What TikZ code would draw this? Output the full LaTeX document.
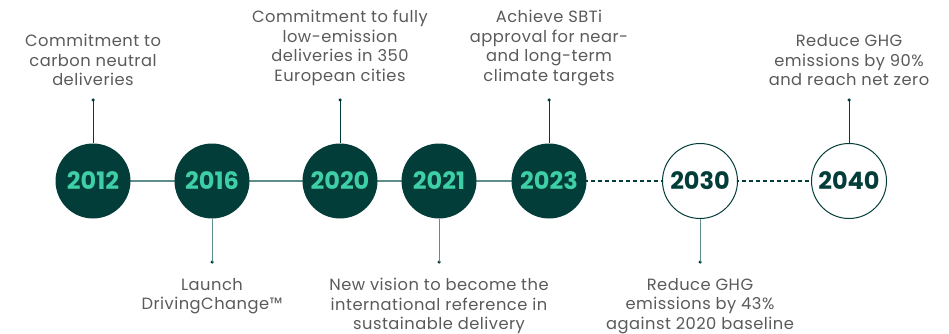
\documentclass[tikz,border=0pt]{standalone}
\usepackage{fontspec}
\setmainfont{Poppins}
\newfontfamily\descfont[LetterSpace=3]{Poppins}
\definecolor{darkteal}{HTML}{033D3A}
\definecolor{mint}{HTML}{3FCFA6}
\definecolor{linegray}{HTML}{5E8E8B}
\definecolor{txtgray}{HTML}{5A5A5A}
\begin{document}
\begin{tikzpicture}[x=1pt,y=-1pt,
  filledyear/.style={circle,fill=darkteal,minimum size=75pt,inner sep=0pt,text=mint,font=\fontsize{24}{24}\selectfont\bfseries},
  openyear/.style={circle,draw=darkteal,line width=1pt,fill=white,minimum size=75pt,inner sep=0pt,text=darkteal,font=\fontsize{24}{24}\selectfont\bfseries},
  desc/.style={align=center,text=txtgray,font=\descfont\fontsize{16.3}{19.6}\selectfont,inner sep=0pt},
  stalk/.style={draw=darkteal,line width=1pt},
  solidlink/.style={draw=linegray,line width=1.4pt},
  dashlink/.style={draw=darkteal,line width=1.2pt,dash pattern=on 4pt off 3pt},
  tipdot/.style={circle,fill=darkteal,inner sep=0pt,minimum size=3.5pt}
]
\useasboundingbox (0,0) rectangle (949,334);
% links
\coordinate (c1) at (93,181);
\coordinate (c2) at (212,181);
\coordinate (c3) at (340,181);
\coordinate (c4) at (439,181);
\coordinate (c5) at (549,181);
\coordinate (c6) at (700,181);
\coordinate (c7) at (849,181);
\draw[solidlink] (c1) -- (c2) -- (c3) -- (c4) -- (c5);
\draw[dashlink] (c5) -- (c6);
\draw[dashlink] (c6) -- (c7);
% stalk ends
\node[tipdot] (d1) at (93,100) {};
\node[tipdot] (d2) at (212,262) {};
\node[tipdot] (d3) at (340,100) {};
\node[tipdot] (d4) at (439,262) {};
\node[tipdot] (d5) at (549,100) {};
\node[tipdot] (d6) at (700,262) {};
\node[tipdot] (d7) at (849,100) {};
% circles
\node[filledyear] (y1) at (c1) {2012};
\node[filledyear] (y2) at (c2) {2016};
\node[filledyear] (y3) at (c3) {2020};
\node[filledyear] (y4) at (c4) {2021};
\node[filledyear] (y5) at (c5) {2023};
\node[openyear] (y6) at (c6) {2030};
\node[openyear] (y7) at (c7) {2040};
\draw[stalk] (y1.north) -- (d1.center);
\draw[stalk,draw=linegray] (y2.south) -- (d2.center);
\draw[stalk] (y3.north) -- (d3.center);
\draw[stalk,draw=linegray] (y4.south) -- (d4.center);
\draw[stalk] (y5.north) -- (d5.center);
\draw[stalk,draw=linegray] (y6.south) -- (d6.center);
\draw[stalk] (y7.north) -- (d7.center);
% descriptions
\node[desc,anchor=south] (t1) at (93,86) {Commitment to\\carbon neutral\\deliveries};
\node[desc,anchor=north] (t2) at (212,278) {Launch\\DrivingChange™};
\node[desc,anchor=south] (t3) at (340,86) {Commitment to fully\\low-emission\\deliveries in 350\\European cities};
\node[desc,anchor=north] (t4) at (439,278) {New vision to become the\\international reference in\\sustainable delivery};
\node[desc,anchor=south] (t5) at (549,86) {Achieve SBTi\\approval for near-\\and long-term\\climate targets};
\node[desc,anchor=north] (t6) at (700,278) {Reduce GHG\\emissions by 43\%\\against 2020 baseline};
\node[desc,anchor=south] (t7) at (849,86) {Reduce GHG\\emissions by 90\%\\and reach net zero};
\end{tikzpicture}
\end{document}
